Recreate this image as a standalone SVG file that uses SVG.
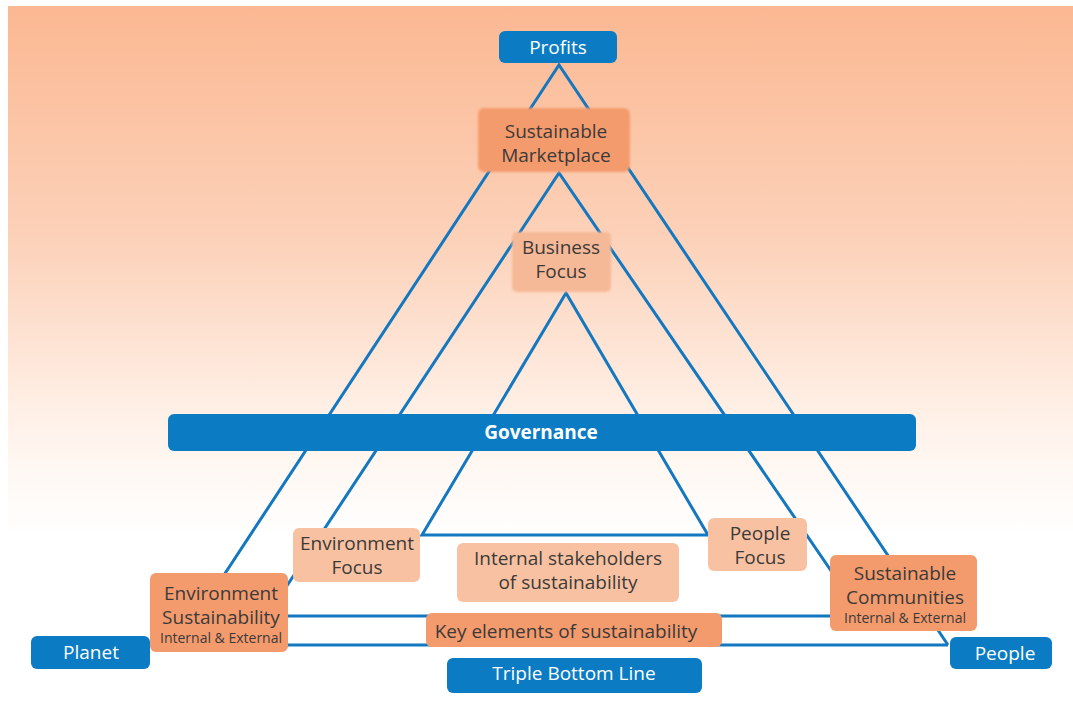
<svg xmlns="http://www.w3.org/2000/svg" width="1073" height="711" viewBox="0 0 1073 711">
<defs>
<linearGradient id="bg" x1="0" y1="0" x2="0" y2="1">
<stop offset="0" stop-color="#fbb892"/>
<stop offset="0.45" stop-color="#fcd2ba"/>
<stop offset="0.8" stop-color="#fff3eb"/>
<stop offset="1" stop-color="#ffffff"/>
</linearGradient>
<filter id="soft" x="-5%" y="-5%" width="110%" height="110%"><feGaussianBlur stdDeviation="0.8"/></filter>
</defs>
<style>
.blue{fill:#0b7cc3}
.orange{fill:#f49b6e}
.peach{fill:#f8c2a2}
.peach2{fill:#f6b997}
.ln{stroke:#1478c0;stroke-width:3;fill:none;stroke-linejoin:miter}
.t{font-family:"Open Sans","Liberation Sans",sans-serif;font-size:19px;fill:#3c3a39;text-anchor:middle}
.s{font-size:14px}
.w{fill:#ffffff}
.b{font-weight:bold}
</style>
<rect x="0" y="0" width="1073" height="711" fill="#ffffff"/>
<rect x="8" y="6" width="1065" height="530" fill="url(#bg)"/>
<g id="connectors">
<polyline class="ln" points="178,645 559,65 948,645"/>
<line class="ln" x1="178" y1="645" x2="948" y2="645"/>
<polyline class="ln" points="267,616 559,173 862,616"/>
<line class="ln" x1="267" y1="616" x2="862" y2="616"/>
<polygon class="ln" points="566,293 422,535 708,535"/>
</g>
<g id="profits"><rect class="blue" x="499" y="31" width="118" height="32" rx="6"/><text class="t w" x="558" y="54">Profits</text></g>
<g id="sustainable-marketplace"><rect class="orange" x="478" y="108" width="152" height="64" rx="6" filter="url(#soft)"/><text class="t" x="556" y="138">Sustainable</text><text class="t" x="556" y="162">Marketplace</text></g>
<g id="business-focus"><rect class="peach2" x="512" y="232" width="99" height="60" rx="5" filter="url(#soft)"/><text class="t" x="561" y="254">Business</text><text class="t" x="561" y="278">Focus</text></g>
<g id="governance"><rect class="blue" x="168" y="414" width="748" height="37" rx="6"/><text class="t w b" x="541" y="439">Governance</text></g>
<g id="environment-focus"><rect class="peach" x="293" y="528" width="127" height="54" rx="6"/><text class="t" x="357" y="550">Environment</text><text class="t" x="357" y="574">Focus</text></g>
<g id="people-focus"><rect class="peach" x="708" y="518" width="99" height="53" rx="6"/><text class="t" x="760" y="540">People</text><text class="t" x="760" y="564">Focus</text></g>
<g id="internal-stakeholders"><rect class="peach" x="457" y="543" width="222" height="59" rx="6"/><text class="t" x="568" y="565">Internal stakeholders</text><text class="t" x="568" y="589">of sustainability</text></g>
<g id="environment-sustainability"><rect class="orange" x="150" y="573" width="138" height="79" rx="6"/><text class="t" x="221" y="600">Environment</text><text class="t" x="221" y="624">Sustainability</text><text class="t s" x="221" y="643">Internal &amp; External</text></g>
<g id="sustainable-communities"><rect class="orange" x="830" y="555" width="147" height="76" rx="6"/><text class="t" x="905" y="580">Sustainable</text><text class="t" x="905" y="604">Communities</text><text class="t s" x="905" y="623">Internal &amp; External</text></g>
<g id="key-elements"><rect class="orange" x="426" y="613" width="296" height="34" rx="6"/><text class="t" x="566" y="638">Key elements of sustainability</text></g>
<g id="triple-bottom-line"><rect class="blue" x="447" y="658" width="255" height="35" rx="6"/><text class="t w" x="574" y="680">Triple Bottom Line</text></g>
<g id="planet"><rect class="blue" x="31" y="636" width="119" height="33" rx="6"/><text class="t w" x="91" y="659">Planet</text></g>
<g id="people"><rect class="blue" x="950" y="637" width="102" height="32" rx="6"/><text class="t w" x="1005" y="660">People</text></g>
</svg>
